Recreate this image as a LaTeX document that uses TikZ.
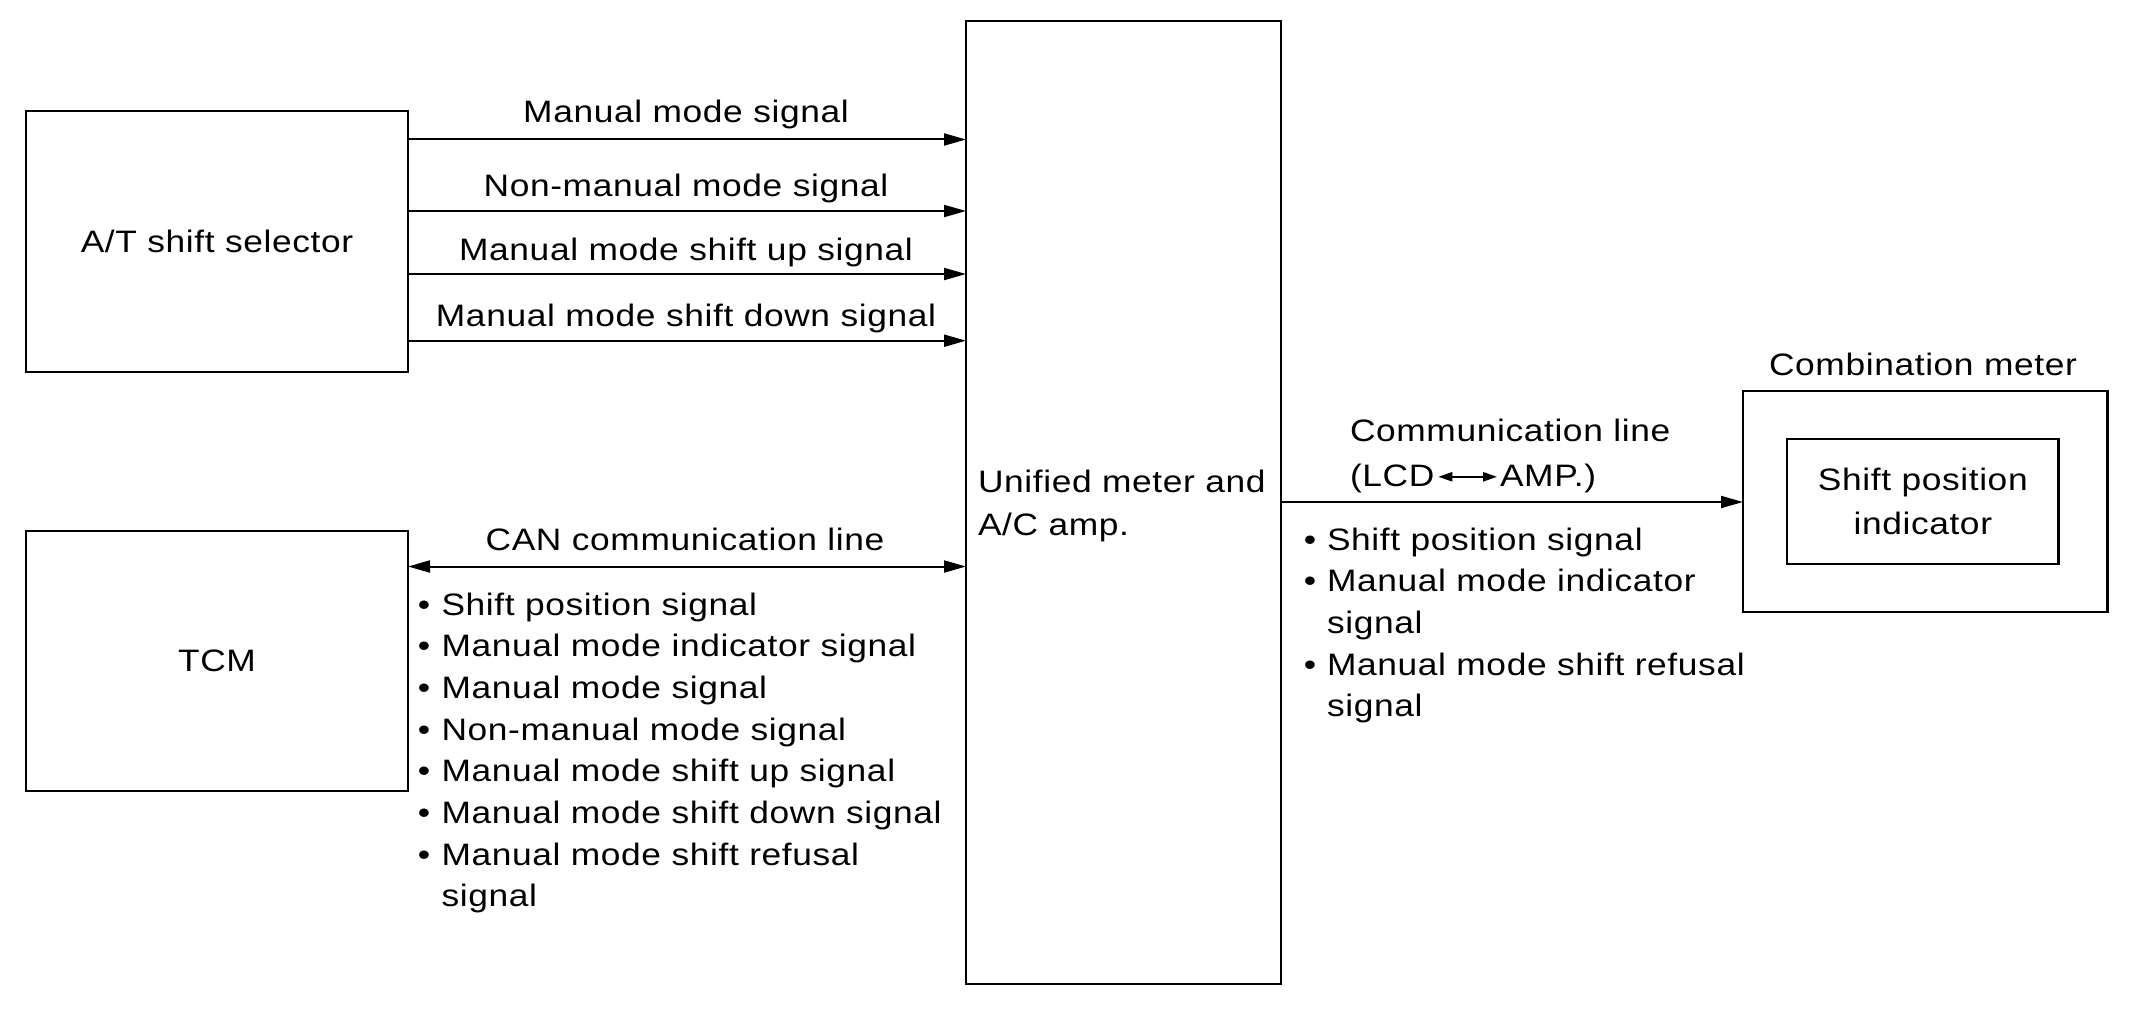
\documentclass[tikz,border=0pt]{standalone}
\usepackage{fontspec}
\setmainfont{Liberation Sans}[FakeStretch=1.14, LetterSpace=2]
\usetikzlibrary{arrows.meta}
\begin{document}
\begin{tikzpicture}[x=0.5pt,y=-0.5pt,
  every node/.style={font=\fontsize{15.5pt}{20.85pt}\selectfont, inner sep=0pt, outer sep=0pt},
  box/.style={draw, line width=1.2pt, anchor=north west},
  arr/.style={line width=1pt, -{Triangle[length=11pt,width=6pt]}},
  darr/.style={line width=1pt, {Triangle[length=11pt,width=6pt]}-{Triangle[length=11pt,width=6pt]}},
  sarr/.style={line width=1pt, {Triangle[length=7pt,width=4.6pt]}-{Triangle[length=7pt,width=4.6pt]}},
  lbl/.style={anchor=base},
  item/.style={anchor=base west},
]
\useasboundingbox (0,0) rectangle (2130,1022);
% boxes
\node[box, minimum width=191pt, minimum height=130.5pt] (at) at (26,111) {A/T shift selector};
\node[box, minimum width=191pt, minimum height=130pt] (tcm) at (26,531) {TCM};
\node[box, minimum width=157.5pt, minimum height=481.5pt] (um) at (966,21) {};
\node[box, minimum width=182.25pt, minimum height=110.5pt] (cm) at (1743,391) {};
\node[box, minimum width=135.8pt, minimum height=62.5pt, align=center,
  font=\fontsize{15.5pt}{21.6pt}\selectfont] (spi) at (1787,439) {Shift position\\indicator};
% selector signals
\foreach \y/\t/\ly/\n in {139.5/Manual mode signal/122.7/s1,
    211/Non-manual mode signal/196.7/s2,
    274/Manual mode shift up signal/260/s3,
    340.7/Manual mode shift down signal/326.7/s4} {
  \draw[arr] (at.east |- 0,\y) -- (um.west |- 0,\y);
  \node[lbl] (\n) at (686,\ly) {\t};
}
% CAN line
\draw[darr] (tcm.east |- 0,566.5) -- (um.west |- 0,566.5);
\node[lbl] (can) at (685,550.5) {CAN communication line};
\foreach \i/\t in {0/Shift position signal, 1/Manual mode indicator signal,
    2/Manual mode signal, 3/Non-manual mode signal, 4/Manual mode shift up signal,
    5/Manual mode shift down signal, 6/Manual mode shift refusal} {
  \node[lbl] (lb\i) at ({424},{615+41.7*\i}) {•};
  \node[item] (lt\i) at ({441.5},{615+41.7*\i}) {\t};
}
\node[item] (lt7) at (441.5,906.7) {signal};
% unified text
\node[item] (ut1) at (978,492.7) {Unified meter and};
\node[item] (ut2) at (978,535) {A/C amp.};
% communication line
\draw[arr] (um.east |- 0,502) -- (cm.west |- 0,502);
\node[item] (cl1) at (1350,441) {Communication line};
\node[item] (lcd) at (1350,486) {(LCD};
\node[item] (amp) at (1500,486) {AMP.)};
\draw[sarr] ([xshift=2pt,yshift=4.6pt]lcd.base east) -- ([xshift=-1.5pt,yshift=4.6pt]amp.base west);
\node[lbl] (rb0) at (1310,550) {•};
\node[item] (rt0) at (1327,550) {Shift position signal};
\node[lbl] (rb1) at (1310,591.7) {•};
\node[item] (rt1) at (1327,591.7) {Manual mode indicator};
\node[item] (rt2) at (1327,633.3) {signal};
\node[lbl] (rb3) at (1310,675) {•};
\node[item] (rt3) at (1327,675) {Manual mode shift refusal};
\node[item] (rt4) at (1327,716.7) {signal};
% combination meter
\node[lbl] (cmt) at (1923,375) {Combination meter};
\end{tikzpicture}
\end{document}
